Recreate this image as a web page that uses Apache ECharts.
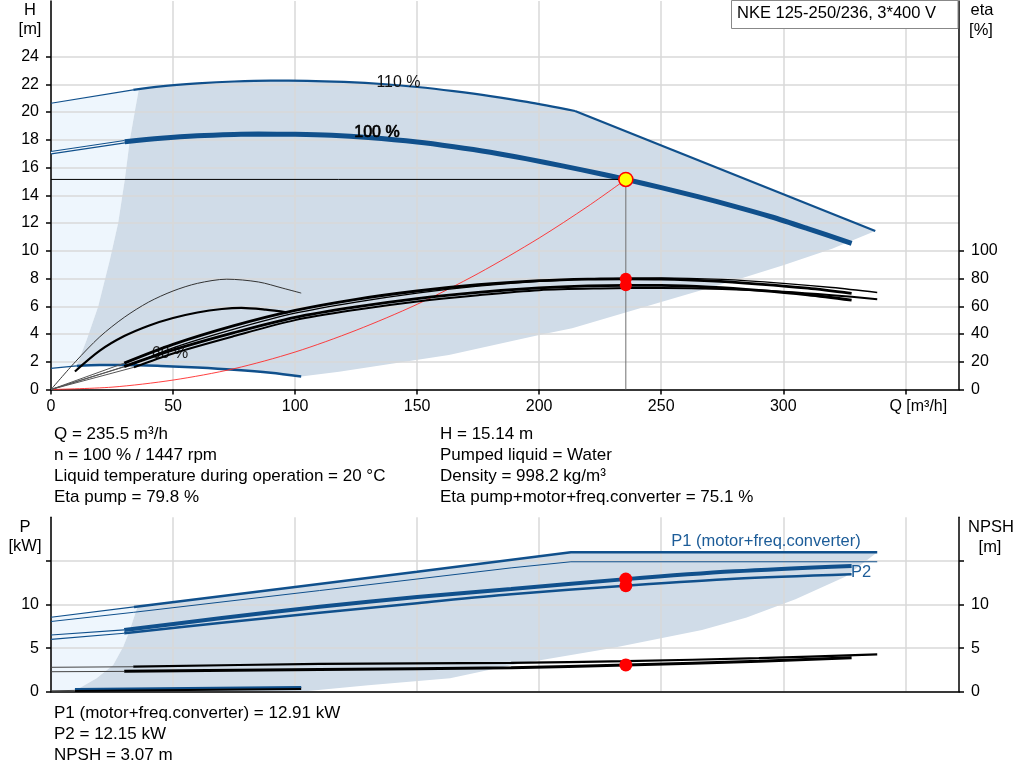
<!DOCTYPE html>
<html><head><meta charset="utf-8">
<script src="https://cdn.jsdelivr.net/npm/echarts@6/dist/echarts.min.js"></script>
<style>html,body{margin:0;padding:0;background:#fff}#c{width:1024px;height:781px}</style>
</head><body><div id="c"></div>
<script>
// ---------- tick values ----------
const qTicks=[0,50,100,150,200,250,300,350];
const hTicks=[0,2,4,6,8,10,12,14,16,18,20,22,24];
const etaTicks=[0,20,40,60,80,100];
const pTicks=[0,5,10,15];
const pLabels=[0,5,10];

// ---------- H curves (Q, H) ----------
const h110Ext=[[0,20.63],[33.7,21.59]];
const h110=[[33.7,21.59],[45,21.85],[60,22.06],[75,22.2],[90,22.26],[105,22.25],[120,22.17],[137,22.0],[150,21.8],[165,21.5],[180,21.15],[195,20.73],[214.7,20.07]];
const h110Limit=[[214.7,20.07],[337.7,11.42]];
const h100Ext=[[0,17.07],[30.2,17.86]];
const h100=[[30.2,17.86],[45,18.1],[60,18.28],[75,18.38],[85,18.41],[100,18.39],[115,18.32],[130,18.16],[150,17.84],[165,17.5],[180,17.1],[195,16.62],[210,16.1],[225,15.55],[235.5,15.14],[250,14.55],[265,13.9],[280,13.2],[295,12.45],[310,11.6],[328,10.54]];
const h60Ext=[[0,1.52],[10.5,1.7]];
const h60=[[10.5,1.7],[20,1.76],[30,1.77],[45,1.7],[60,1.58],[75,1.42],[90,1.2],[102.5,0.93]];
const systemCurve=[[0,0],[25,0.17],[50,0.68],[75,1.5],[100,2.7],[125,4.27],[150,6.14],[175,8.36],[200,10.92],[220,13.21],[235.5,15.14]];

// ---------- efficiency curves (Q, eta %) ----------
const eta60Pump=[[0,0],[10,20],[20,38],[30,52],[40,63],[50,71],[60,76.5],[72,79.5],[85,77.5],[95,73],[102.5,69.5]];
const eta60Total=[[9.8,13],[20,28],[30,38.5],[40,46],[50,51.5],[60,55.5],[70,58],[78,58.8],[88,57.5],[97,55.5]];
const etaPump100Ext=[[0,0],[30,19]];
const etaPump100=[[30,19],[50,32.5],[75,46],[100,57],[125,65],[150,71],[175,75.5],[200,78.4],[220,79.6],[235.5,79.8],[250,79.6],[270,78.3],[290,76],[310,73],[328,69.2]];
const etaTotal100Ext=[[0,0],[30,16.5]];
const etaTotal100=[[30,16.5],[50,28.5],[75,41],[100,52],[125,59.5],[150,65.5],[175,70],[200,73.2],[220,74.7],[235.5,75.1],[250,75],[270,73.8],[290,71.5],[310,68.3],[328,64.4]];
const etaPump110Ext=[[0,0],[34,18.5]];
const etaPump110=[[34,18.5],[50,30],[75,43.5],[100,55],[125,63],[150,69.5],[175,74.5],[200,78],[225,80],[250,80.5],[275,79.3],[300,76.5],[320,73.5],[338.5,69.9]];
const etaTotal110Ext=[[0,0],[34,16]];
const etaTotal110=[[34,16],[50,26],[75,38.5],[100,50],[125,57.5],[150,63.5],[175,68],[200,71.6],[225,72.8],[250,73.2],[275,72.5],[300,70.5],[320,68],[338.5,65.1]];

// ---------- operating area (Q, H) ----------
const hAreaDark=[[36,21.64],[45,21.85],[60,22.06],[75,22.2],[90,22.26],[105,22.25],[120,22.17],[137,22.0],[150,21.8],[165,21.5],[180,21.15],[195,20.73],[214.7,20.07],[337.7,11.42],[320,10.15],[300,8.95],[280,7.85],[250,6.3],[213.5,4.41],[200,3.93],[163,2.49],[118,1.28],[102.5,0.93],[90,1.2],[75,1.42],[60,1.58],[45,1.7],[30,1.77],[20,1.76],[10.5,1.7],[14.6,3.57],[19.3,5.97],[24.1,9.33],[27.5,11.98],[30.2,15.09],[32.3,17.98],[34.5,20.2]];
const hAreaLight=[[0,1.52],[0,20.63],[33.7,21.59],[36,21.64],[34.5,20.2],[32.3,17.98],[30.2,15.09],[27.5,11.98],[24.1,9.33],[19.3,5.97],[14.6,3.57],[10.5,1.7]];

// ---------- power curves (Q, P kW) ----------
const p1Ext110=[[0,8.54],[34,9.72]];
const p1Main110=[[34,9.72],[100,12.0],[150,13.75],[213,15.99],[338.5,15.99]];
const p2Line110=[[0,8.05],[33.7,9.1],[110,11.6],[188.5,14.2],[213,14.9],[338.5,14.9]];
const p1Ext100=[[0,6.5],[30,7.08]];
const p1Main100=[[30,7.08],[70,8.45],[110,9.75],[150,10.85],[188.5,11.78],[235.5,12.91],[280,13.8],[328,14.42]];
const p2Ext100=[[0,6.0],[30,6.7]];
const p2Main100=[[30,6.7],[70,7.9],[110,9.06],[150,10.15],[188.5,11.17],[235.5,12.15],[280,12.95],[328,13.46]];
const p60=[[9.8,0.3],[102.5,0.55]];

// ---------- NPSH curves (Q, m) ----------
const npshExt110=[[0,2.8],[33.7,2.86]];
const npsh110=[[33.7,2.88],[110,3.18],[188.5,3.3],[235.5,3.5],[290,3.85],[338.5,4.29]];
const npshExt100=[[0,2.29],[30,2.33]];
const npsh100=[[30,2.35],[110,2.55],[188.5,2.75],[235.5,3.07],[290,3.5],[328,3.88]];
const npsh60Ext=[[0,0.1],[9.8,0.15]];
const npsh60=[[9.8,0.15],[102.5,0.38]];

// ---------- operating area (Q, P) ----------
const pAreaDark=[[35.5,9.76],[100,12.0],[150,13.75],[213,15.99],[338.5,15.99],[325.4,13.19],[305,10.6],[285,8.5],[266.7,7.08],[230,5.0],[188.9,3.06],[163.5,1.54],[130,0.75],[102,0],[9.1,0],[18.7,1.54],[25.5,3.06],[29.6,5.16],[32.3,7.07],[35,9.37]];
const pAreaLight=[[0,0],[0,8.54],[35.5,9.76],[35,9.37],[32.3,7.07],[29.6,5.16],[25.5,3.06],[18.7,1.54],[9.1,0]];

// ---------- operating point ----------
const opQ=235.5, opH=15.14, opEtaPump=79.8, opEtaTotal=75.1, opP1=12.91, opP2=12.15, opNPSH=3.07;

// ---------- texts ----------
const title='NKE 125-250/236, 3*400 V';
const infoLeft=['Q = 235.5 m³/h','n = 100 % / 1447 rpm','Liquid temperature during operation = 20 °C','Eta pump = 79.8 %'];
const infoRight=['H = 15.14 m','Pumped liquid = Water','Density = 998.2 kg/m³','Eta pump+motor+freq.converter = 75.1 %'];
const infoBottom=['P1 (motor+freq.converter) = 12.91 kW','P2 = 12.15 kW','NPSH = 3.07 m'];

// ---------- chart ----------
const BLUE='#10508c', FILL='#d0dce8', LIGHT='#eef6fd', GRID='#d9d9d9';
const FF='"Liberation Sans", Arial, sans-serif';

function ln(data, xi, yi, color, width, z, smooth){
  return {type:'line', xAxisIndex:xi, yAxisIndex:yi, data:data, symbol:'none', showSymbol:false,
    smooth: smooth?0.3:false, lineStyle:{color:color, width:width, cap:'butt'}, z:z||3, silent:true, animation:false};
}
function area(poly, xi, yi, color){
  return {type:'custom', coordinateSystem:'cartesian2d', xAxisIndex:xi, yAxisIndex:yi, data:[poly[0]], z:0, silent:true, animation:false,
    renderItem:function(params, api){
      return {type:'polygon', shape:{points: poly.map(function(p){return api.coord(p);})}, style:{fill:color}};
    }};
}
function dots(data, xi, yi, size, color, border){
  return {type:'scatter', xAxisIndex:xi, yAxisIndex:yi, data:data, symbolSize:size, z:8, silent:true, animation:false,
    itemStyle: border?{color:color, borderColor:border, borderWidth:1.5, opacity:1}:{color:color, opacity:1}};
}
function yAx(gi, pos, max, interval, ticks, labels, split, labelMax){
  return {type:'value', gridIndex:gi, position:pos, min:0, max:max, interval:interval, z:1,
    axisLine:{show:true, onZero:false, lineStyle:{color:'#000', width:1.5}},
    axisTick:{show:true, length:5, customValues:ticks, lineStyle:{color:'#000', width:1.5}},
    axisLabel:{show:true, customValues:labels, margin:12, color:'#000', fontSize:16, fontFamily:FF,
      formatter:function(v){return v<=labelMax?String(v):'';}},
    splitLine:{show:split, lineStyle:{color:GRID, width:1.5}}};
}
function xAx(gi, showLabels){
  return {type:'value', gridIndex:gi, min:0, max:372, interval:50, z:1,
    axisLine:{show:true, onZero:false, lineStyle:{color:'#000', width:1.5}},
    axisTick:{show:showLabels, length:5, customValues:qTicks, lineStyle:{color:'#000', width:1.5}},
    axisLabel:{show:showLabels, customValues:qTicks, margin:9, color:'#000', fontSize:16, fontFamily:FF,
      rich:{q:{padding:[0,0,0,26], fontSize:16, fontFamily:FF, color:'#000'}},
      formatter:function(v){ if(v===350) return '{q|Q [m³/h]}'; return v<350?String(v):''; }},
    splitLine:{show:true, lineStyle:{color:GRID, width:1.5}}};
}
function txt(s, x, y, opt){
  opt=opt||{};
  const st={text:s, fill:opt.color||'#000', font:(opt.weight||'normal')+' '+(opt.size||17)+'px '+FF,
      textAlign:opt.align||'left', textVerticalAlign:'middle', align:opt.align||'left', verticalAlign:'middle'};
  if(opt.stroke){ st.stroke=opt.stroke; st.lineWidth=opt.strokeWidth||0.6; }
  return {type:'text', x:x, y:y, z:opt.z||20, silent:true, style:st};
}

const series=[
  area(hAreaLight,0,0,LIGHT),
  area(hAreaDark,0,0,FILL),
  ln(h110Ext,0,0,BLUE,1.2,3),
  ln(h110,0,0,BLUE,2.2,3,true),
  ln(h110Limit,0,0,BLUE,2.2,3),
  ln(h100Ext,0,0,BLUE,3.5,3),
  ln(h100Ext,0,0,'#f4f8fc',1.2,3),
  ln(h100,0,0,BLUE,5,3,true),
  ln(h60Ext,0,0,BLUE,1.2,3),
  ln(h60,0,0,BLUE,2.5,3,true),
  ln(systemCurve,0,0,'#ff2a2a',0.9,4,true),
  ln([[0,opH],[opQ,opH]],0,0,'#000',1,4),
  ln([[opQ,opH],[opQ,0]],0,0,'#707070',1,4),
  ln(eta60Pump,0,1,'#333',1,5,true),
  ln(eta60Total,0,1,'#000',2.2,5,true),
  ln(etaPump110Ext,0,1,'#555',1,5),
  ln(etaTotal110Ext,0,1,'#555',1,5),
  ln(etaPump100Ext,0,1,'#555',1,5),
  ln(etaTotal100Ext,0,1,'#555',1,5),
  ln(etaPump110,0,1,'#000',1.3,5,true),
  ln(etaTotal110,0,1,'#000',2,5,true),
  ln(etaPump100,0,1,'#000',2.8,5,true),
  ln(etaTotal100,0,1,'#000',2.8,5,true),
  dots([[opQ,opEtaPump],[opQ,opEtaTotal]],0,1,12,'#ff0000'),
  dots([[opQ,opH]],0,0,14,'#ffff00','#ff0000'),
  area(pAreaLight,1,2,LIGHT),
  area(pAreaDark,1,2,FILL),
  ln(p1Ext110,1,2,BLUE,1.2,3),
  ln(p1Main110,1,2,BLUE,2.5,3),
  ln(p2Line110,1,2,BLUE,1,3),
  ln(p1Ext100,1,2,BLUE,1.2,3),
  ln(p1Main100,1,2,BLUE,4,3,true),
  ln(p2Ext100,1,2,BLUE,1.2,3),
  ln(p2Main100,1,2,BLUE,2.5,3,true),
  ln(npshExt110,1,3,'#444',1,4),
  ln(npsh110,1,3,'#000',2.2,4,true),
  ln(npshExt100,1,3,'#444',1,4),
  ln(npsh100,1,3,'#000',3,4,true),
  ln(npsh60Ext,1,3,'#444',1,4),
  ln(npsh60,1,3,'#000',3,4),
  ln(p60,1,2,BLUE,2,4),
  dots([[opQ,opP1],[opQ,opP2]],1,2,13,'#ff0000'),
  dots([[opQ,opNPSH]],1,3,13,'#ff0000')
];

const graphics=[
  txt('H',30,10,{align:'center',size:16.5}),
  txt('[m]',30,29,{align:'center',size:16.5}),
  txt('eta',982,10,{align:'center',size:16.5}),
  txt('[%]',981,30,{align:'center',size:16.5}),
  txt('P',25,527,{align:'center',size:16.5}),
  txt('[kW]',25,546,{align:'center',size:16.5}),
  txt('NPSH',991,527,{align:'center',size:16.5}),
  txt('[m]',990,547,{align:'center',size:16.5}),
  {type:'rect', shape:{x:731.5, y:0.5, width:226.5, height:28}, style:{fill:'#fff', stroke:'#888', lineWidth:1}, z:19, silent:true},
  txt(title,737,13,{size:16.5}),
  txt('110 %',398.5,83,{align:'center',size:16,color:'#111'}),
  txt('100 %',377,133,{align:'center',size:16,color:'#000',stroke:'#000',strokeWidth:0.7}),
  {type:'text', x:170, y:354, z:2, silent:true, style:{text:'60 %', fill:'#222', font:'16px '+FF, textAlign:'center', textVerticalAlign:'middle', align:'center', verticalAlign:'middle'}},
  txt('P1 (motor+freq.converter)',766,541.5,{align:'center',size:16.5,color:'#1c5c98'}),
  txt('P2',861,572.5,{align:'center',size:16.5,color:'#1c5c98'})
];
infoLeft.forEach(function(s,i){ graphics.push(txt(s,54,434+21*i)); });
infoRight.forEach(function(s,i){ graphics.push(txt(s,440,434+21*i)); });
infoBottom.forEach(function(s,i){ graphics.push(txt(s,54,713+21*i)); });

const chart=echarts.init(document.getElementById('c'), null, {renderer:'canvas', width:1024, height:781});
chart.setOption({
  animation:false,
  backgroundColor:'#fff',
  grid:[
    {left:51, right:65, top:1, bottom:391.5, show:false},
    {left:51, right:65, top:517.3, bottom:89.3, show:false}
  ],
  xAxis:[xAx(0,true), xAx(1,false)],
  yAxis:[
    yAx(0,'left',28,2,hTicks,hTicks,true,24),
    yAx(0,'right',280,20,etaTicks,etaTicks,false,100),
    yAx(1,'left',20,5,pTicks,pLabels,true,10),
    yAx(1,'right',20,5,pTicks,pLabels,false,10)
  ],
  series:series,
  graphic:graphics
});
</script>
</body></html>
